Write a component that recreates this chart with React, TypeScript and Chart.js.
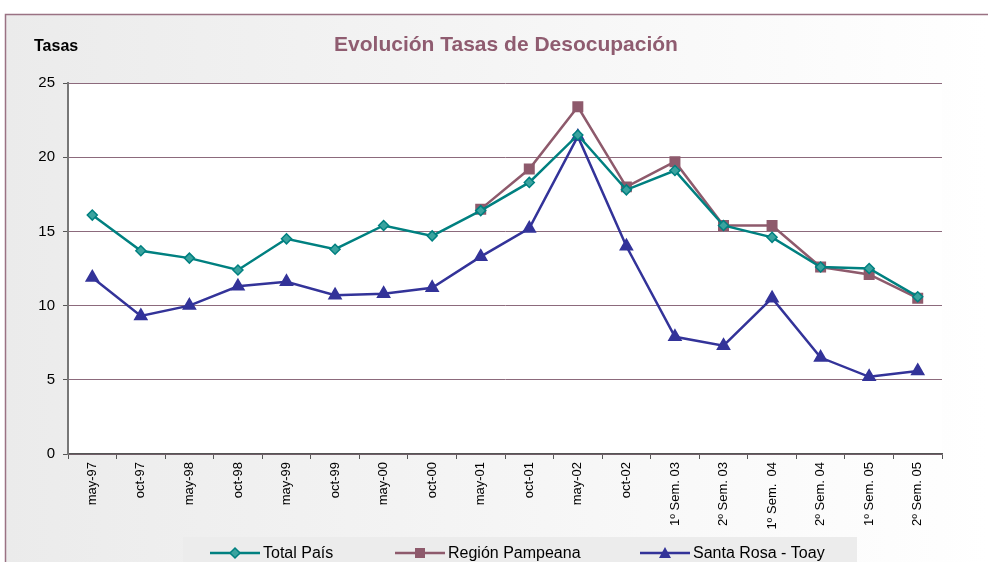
import React, { useEffect, useRef } from "react";
import { Chart, registerables } from "chart.js";

Chart.register(...registerables);

const categories = [
  "may-97", "oct-97", "may-98", "oct-98", "may-99", "oct-99", "may-00", "oct-00",
  "may-01", "oct-01", "may-02", "oct-02", "1º Sem. 03", "2º Sem. 03", "1º Sem.  04",
  "2º Sem. 04", "1º Sem. 05", "2º Sem. 05",
];
const totalPais = [16.1, 13.7, 13.2, 12.4, 14.5, 13.8, 15.4, 14.7, 16.4, 18.3, 21.5, 17.8, 19.1, 15.4, 14.6, 12.6, 12.5, 10.6];
const regionPampeana = [null, null, null, null, null, null, null, null, 16.5, 19.2, 23.4, 18.0, 19.7, 15.4, 15.4, 12.6, 12.1, 10.5];
const santaRosa = [11.9, 9.3, 10.0, 11.3, 11.6, 10.7, 10.8, 11.2, 13.3, 15.2, 21.4, 14.0, 7.9, 7.3, 10.5, 6.5, 5.2, 5.6];
const seriesNames = ["Total País", "Región Pampeana", "Santa Rosa - Toay"];
const chartTitle = "Evolución Tasas de Desocupación";
const yTitle = "Tasas";

const TEAL = "#008080";
const MAUVE = "#8E5A6C";
const NAVY = "#333399";
const FONT = "'Liberation Sans', Arial, sans-serif";

const framePlugin = {
  id: "frame",
  beforeDraw(chart: any) {
    const ctx = chart.ctx;
    const W = chart.width, H = chart.height;
    ctx.save();
    ctx.fillStyle = "#ffffff";
    ctx.fillRect(0, 0, W, H);
    const g = ctx.createLinearGradient(5, 0, W, 0);
    g.addColorStop(0, "#ebebeb");
    g.addColorStop(1, "#ffffff");
    ctx.fillStyle = g;
    ctx.fillRect(5, 14, W - 5, H - 14);
    ctx.strokeStyle = "#9a7283";
    ctx.lineWidth = 1.5;
    ctx.beginPath();
    ctx.moveTo(5.5, H);
    ctx.lineTo(5.5, 14.5);
    ctx.lineTo(W, 14.5);
    ctx.stroke();
    const a = chart.chartArea;
    ctx.fillStyle = "#ffffff";
    ctx.fillRect(a.left, a.top, a.right - a.left, a.bottom - a.top);
    // titles
    ctx.fillStyle = "#000";
    ctx.font = `bold 16px ${FONT}`;
    ctx.textBaseline = "alphabetic";
    ctx.textAlign = "left";
    ctx.fillText(yTitle, 34, 51);
    ctx.fillStyle = "#8F5C70";
    ctx.font = `bold 21px ${FONT}`;
    ctx.textAlign = "center";
    ctx.fillText(chartTitle, 506, 51);
    ctx.restore();
  },
  afterDraw(chart: any) {
    const ctx = chart.ctx;
    ctx.save();
    // legend box
    ctx.fillStyle = "#ececec";
    ctx.fillRect(183, 537, 674, 30);
    const items = [
      { x: 210, color: TEAL, style: "diamond" },
      { x: 395, color: MAUVE, style: "square" },
      { x: 640, color: NAVY, style: "triangle" },
    ];
    const y = 553;
    items.forEach((it, i) => {
      ctx.strokeStyle = it.color;
      ctx.lineWidth = 2.5;
      ctx.beginPath();
      ctx.moveTo(it.x, y);
      ctx.lineTo(it.x + 50, y);
      ctx.stroke();
      const cx = it.x + 25;
      ctx.fillStyle = it.color;
      ctx.beginPath();
      if (it.style === "diamond") {
        ctx.moveTo(cx, y - 5); ctx.lineTo(cx + 5, y); ctx.lineTo(cx, y + 5); ctx.lineTo(cx - 5, y);
        ctx.closePath();
        ctx.fillStyle = "#3aa39f";
        ctx.fill();
        ctx.lineWidth = 1.5;
        ctx.stroke();
      } else if (it.style === "square") {
        ctx.rect(cx - 5, y - 5, 10, 10);
        ctx.fill();
      } else {
        ctx.moveTo(cx, y - 6); ctx.lineTo(cx + 6, y + 5); ctx.lineTo(cx - 6, y + 5);
        ctx.closePath();
        ctx.fill();
      }
      ctx.fillStyle = "#000";
      ctx.font = `16px ${FONT}`;
      ctx.textAlign = "left";
      ctx.textBaseline = "middle";
      ctx.fillText(seriesNames[i], it.x + 53, y + 1);
    });
    ctx.restore();
  },
};

export default function App() {
  const ref = useRef<HTMLCanvasElement>(null);
  useEffect(() => {
    if (!ref.current) return;
    const chart = new Chart(ref.current, {
      type: "line",
      data: {
        labels: categories,
        datasets: [
          {
            label: seriesNames[0],
            data: totalPais,
            borderColor: TEAL,
            backgroundColor: "#3aa39f",
            pointBorderColor: TEAL,
            pointBackgroundColor: "#3aa39f",
            pointStyle: "rectRot",
            pointRadius: 5,
            pointBorderWidth: 1.5,
            borderWidth: 2.5,
            tension: 0,
          },
          {
            label: seriesNames[1],
            data: regionPampeana,
            borderColor: MAUVE,
            backgroundColor: MAUVE,
            pointBackgroundColor: MAUVE,
            pointBorderColor: MAUVE,
            pointStyle: "rect",
            pointRadius: 6,
            borderWidth: 2.5,
            spanGaps: false,
          },
          {
            label: seriesNames[2],
            data: santaRosa,
            borderColor: NAVY,
            backgroundColor: NAVY,
            pointBackgroundColor: NAVY,
            pointBorderColor: NAVY,
            pointStyle: "triangle",
            pointRadius: 6,
            borderWidth: 2.5,
          },
        ],
      },
      options: {
        responsive: false,
        animation: false,
        layout: { padding: { left: 0, top: 83, right: 46, bottom: 0 } },
        plugins: { legend: { display: false }, title: { display: false }, tooltip: { enabled: false } },
        scales: {
          x: {
            offset: true,
            grid: { offset: true, drawOnChartArea: false, drawTicks: true, tickLength: 5, color: "#555" },
            border: { color: "#555", width: 1.5 },
            ticks: {
              color: "#000",
              font: { family: FONT, size: 13 },
              maxRotation: 90,
              minRotation: 90,
              autoSkip: false,
              padding: 3,
            },
            afterFit(scale: any) { scale.height = 108; },
          },
          y: {
            min: 0,
            max: 25,
            ticks: { stepSize: 5, color: "#000", font: { family: FONT, size: 15 }, padding: 8 },
            grid: { color: "#8c6a7c", lineWidth: 1, tickLength: 5, tickColor: "#555" },
            border: { color: "#777", width: 2 },
            afterFit(scale: any) { scale.width = 68; },
          },
        },
      },
      plugins: [framePlugin],
    });
    return () => chart.destroy();
  }, []);
  return (
    <div style={{ position: "fixed", left: 0, top: 0, width: 988, height: 562 }}>
      <canvas ref={ref} width={988} height={562} style={{ width: 988, height: 562, display: "block" }} />
    </div>
  );
}
